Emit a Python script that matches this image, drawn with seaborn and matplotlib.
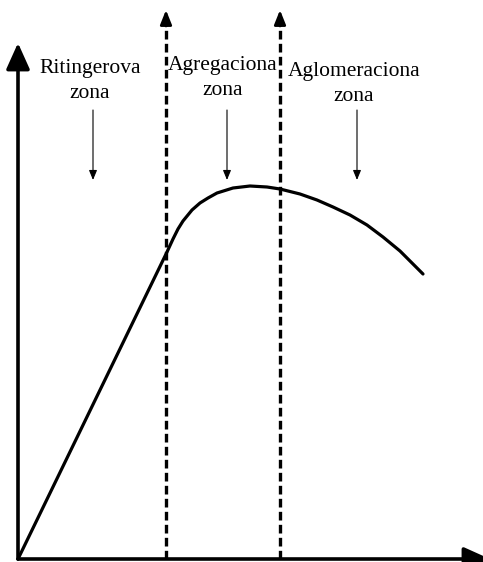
import numpy as np
import pandas as pd
import matplotlib
matplotlib.use("Agg")
import matplotlib.pyplot as plt
import seaborn as sns

# curve (origin at the axes corner, y up)
curve_x = [0, 149, 155, 160, 165, 174, 182, 190, 199, 215, 232, 249,
           262, 282, 299, 315, 332, 349, 365, 382, 405]
curve_y = [0, 307, 320, 330, 338, 349, 356, 361, 366, 371, 373, 372,
           370, 365, 359, 352, 344, 334, 322, 308, 285]

# zone borders (dashed) and zone labels
border_x = [148, 262]
border_top = 549
zone_labels = ["Ritingerova\nzona", "Agregaciona\nzona", "Aglomeraciona\nzona"]
label_x = [72, 205, 336]
label_y = [478, 481, 475]
pointer_x = [75, 209, 339]
pointer_from = 449
pointer_to = 379

sns.set_theme(style="white")
plt.rcParams["font.family"] = ["Liberation Serif", "DejaVu Serif"]

fig = plt.figure(figsize=(4.83, 5.62), dpi=100)
ax = fig.add_axes([0, 0, 1, 1])
ax.set_xlim(-18, 465)
ax.set_ylim(-3, 559)
ax.axis("off")

df = pd.DataFrame({"x": curve_x, "y": curve_y})
sns.lineplot(data=df, x="x", y="y", sort=False, color="black", lw=2.3, ax=ax)

# dashed borders with arrow heads on top
ax.vlines(border_x, 0, border_top - 14, colors="black", lw=2.4,
          linestyles=[(0, (2.6, 1.3))])
for bx in border_x:
    ax.annotate("", xy=(bx, border_top), xytext=(bx, border_top - 16),
                arrowprops=dict(arrowstyle="-|>,head_length=8.5,head_width=3.4",
                                mutation_scale=1, lw=2, color="black",
                                shrinkA=0, shrinkB=0))

# axes with arrows
ax.annotate("", xy=(0, 516), xytext=(0, 0),
            arrowprops=dict(arrowstyle="-|>,head_length=16,head_width=7.2",
                            mutation_scale=1, lw=2.6, color="black",
                            shrinkA=0, shrinkB=0))
ax.annotate("", xy=(472, 0), xytext=(0, 0), annotation_clip=False,
            arrowprops=dict(arrowstyle="-|>,head_length=16,head_width=7.2",
                            mutation_scale=1, lw=2.6, color="black",
                            shrinkA=0, shrinkB=0))

# zone labels and pointers
for lab, lx, ly, px in zip(zone_labels, label_x, label_y, pointer_x):
    ax.text(lx, ly, lab, ha="center", va="center", fontsize=15.5,
            linespacing=1.38, color="black")
    ax.annotate("", xy=(px, pointer_to), xytext=(px, pointer_from),
                arrowprops=dict(arrowstyle="-|>,head_length=5.8,head_width=2.4",
                                mutation_scale=1, lw=0.8, color="black",
                                shrinkA=0, shrinkB=0))

fig.savefig("out.png", dpi=100)
